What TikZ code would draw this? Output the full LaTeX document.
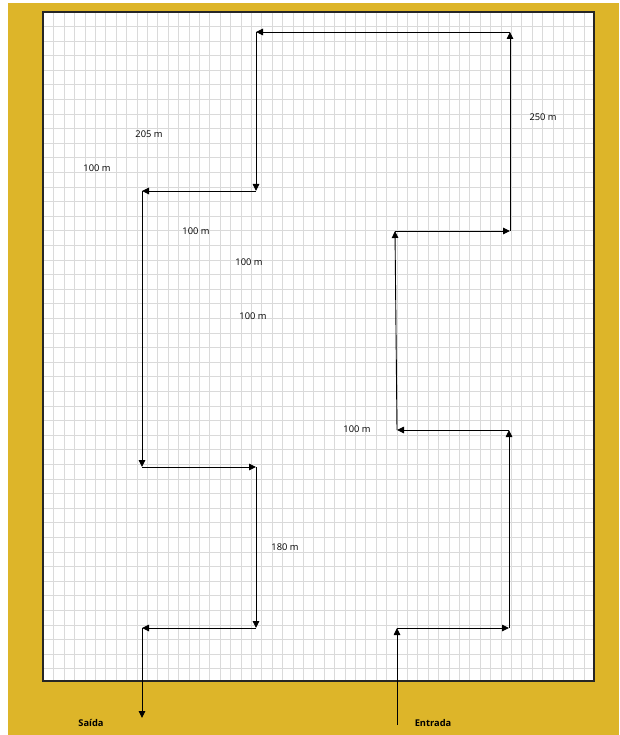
\documentclass[tikz,border=0pt]{standalone}
\usepackage{fontspec}
\newfontfamily\labelfont{Open Sans}
\usepackage{tikz}
\usetikzlibrary{arrows.meta}

\definecolor{mapyellow}{RGB}{221,181,41}
\definecolor{gridgray}{RGB}{218,218,218}

\begin{document}
\begin{tikzpicture}[
    x=1pt, y=-1pt,
    gridline/.style={draw=gridgray, line width=1.6pt},
    border/.style={draw=black!85, line width=1.1pt},
    route/.style={-{Triangle[length=7pt, width=6.5pt]}, line width=0.9pt, draw=black},
    dist/.style={font=\labelfont\fontsize{9.3}{11}\selectfont, inner sep=0pt},
    gate/.style={font=\labelfont\bfseries\fontsize{9.3}{11}\selectfont, inner sep=0pt}
]
\useasboundingbox (0,0) rectangle (619,735);

% background and squared paper
\fill[mapyellow] (8,3) rectangle (619,735);
\fill[white] (43,12) rectangle (594,681);
\foreach \i in {1,...,52}
    \draw[gridline] ({round(43+10.4*\i)+0.5},12) -- ({round(43+10.4*\i)+0.5},681);
\foreach \j in {0,...,44}
    \draw[gridline] (43,{round(26+14.6*\j)+0.5}) -- (594,{round(26+14.6*\j)+0.5});
\draw[border] (43,12) rectangle (594,681);

% corners of the route
\coordinate (in)  at (397,725);
\coordinate (c1)  at (397,628);
\coordinate (c2)  at (509,628);
\coordinate (c3)  at (509,430);
\coordinate (c4)  at (397,430);
\coordinate (c5)  at (395,231);
\coordinate (c6)  at (510,231);
\coordinate (c7)  at (510,32);
\coordinate (c8)  at (256,32);
\coordinate (c9)  at (256,191);
\coordinate (c10) at (142,191);
\coordinate (c11) at (142,467);
\coordinate (c12) at (256,467);
\coordinate (c13) at (256,628);
\coordinate (c14) at (142,628);
\coordinate (out) at (142,718);

\draw[route] (in)  -- (c1);
\draw[route] (c1)  -- (c2);
\draw[route] (c2)  -- (c3);
\draw[route] (c3)  -- (c4);
\draw[route] (c4)  -- (c5);
\draw[route] (c5)  -- (c6);
\draw[route] (c6)  -- (c7);
\draw[route] (c7)  -- (c8);
\draw[route] (c8)  -- (c9);
\draw[route] (c9)  -- (c10);
\draw[route] (c10) -- (c11);
\draw[route] (c11) -- (c12);
\draw[route] (c12) -- (c13);
\draw[route] (c13) -- (c14);
\draw[route] (c14) -- (out);

% distances
\node[dist] (d205)  at (149,134) {205 m};
\node[dist] (d100a) at (97,168)  {100 m};
\node[dist] (d100b) at (196,231) {100 m};
\node[dist] (d100c) at (249,262) {100 m};
\node[dist] (d100d) at (253,316) {100 m};
\node[dist] (d250)  at (543,117) {250 m};
\node[dist] (d100e) at (357,429) {100 m};
\node[dist] (d180)  at (285,547) {180 m};

\node[gate] (saida)   at (91,723)  {Saída};
\node[gate] (entrada) at (433,723) {Entrada};

\end{tikzpicture}
\end{document}
